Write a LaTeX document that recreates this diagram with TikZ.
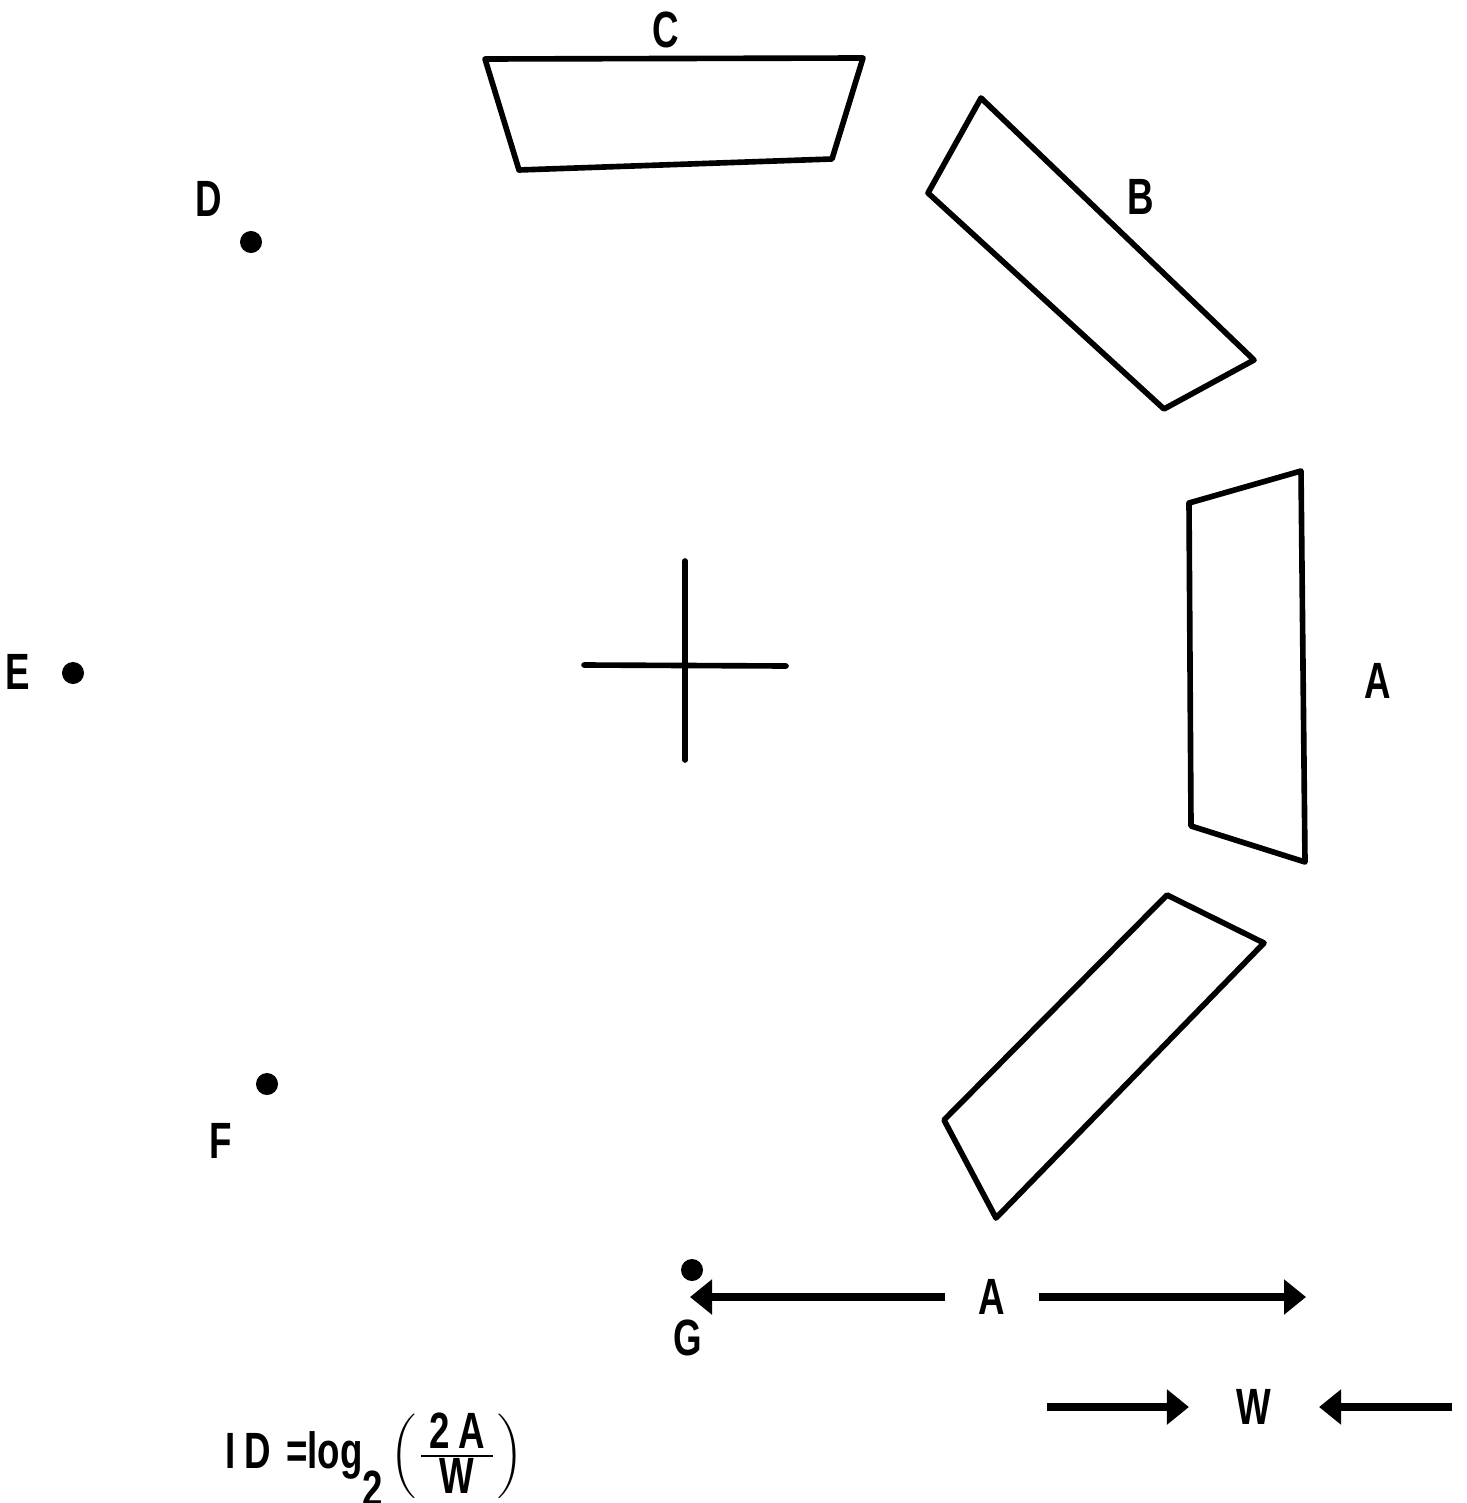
\documentclass[tikz,border=0pt]{standalone}
\usepackage{fontspec}
\newfontfamily\lab[FakeStretch=0.72]{Liberation Sans}
\usetikzlibrary{arrows.meta,positioning}
\newcommand{\labsize}{\lab\bfseries\fontsize{14.5}{16}\selectfont}
\tikzset{
  panel/.style={line width=1.6pt,line join=round,line cap=round},
  target/.style={circle,fill,inner sep=0pt,minimum size=0.22cm},
  lbl/.style={font=\labsize,inner sep=0pt},
  dim/.style={line width=2pt,-{Triangle[length=0.22cm,width=0.34cm]}}
}

\begin{document}
\begin{tikzpicture}[x=0.01cm,y=-0.01cm]
\useasboundingbox (0,0) rectangle (1467,1503);
% target panels
\draw[panel] (485,59) -- (863,58) -- (832,159) -- (519,170) -- cycle;
\draw[panel] (981,98) -- (1254,360) -- (1164,409) -- (928,193) -- cycle;
\draw[panel] (1189,503) -- (1301,471) -- (1305,862) -- (1191,826) -- cycle;
\draw[panel] (1167,895) -- (1264,943) -- (996,1218) -- (944,1120) -- cycle;
% centre cross
\draw[panel] (685,561) -- (685,760);
\draw[panel] (584,665) -- (786,666);
% start points
\node[target] (d) at (251,242) {};
\node[target] (e) at (73,673) {};
\node[target] (f) at (267,1084) {};
\node[target] (g) at (692,1270) {};
\node[lbl] (lc) at (666,30) {C};
\node[lbl] (lb) at (1141,197) {B};
\node[lbl] (la) at (1378,681) {A};
\node[lbl] (ld) at (209,199) {D};
\node[lbl] (le) at (18,672) {E};
\node[lbl] (lf) at (221,1141) {F};
\node[lbl] (lg) at (688,1338) {G};
% amplitude and width
\node[lbl,inner xsep=0.33cm] (adim) at (992,1297) {A};
\coordinate (gtip) at (690,1297);
\coordinate (aend) at (1306,1297);
\draw[dim] (adim.west) -- (gtip);
\draw[dim] (adim.east) -- (aend);
\node[lbl,inner xsep=0.47cm] (wdim) at (1254,1407) {W};
\coordinate (wl) at (1047,1407);
\coordinate (wr) at (1452,1407);
\draw[dim] (wl) -- (wdim.west);
\draw[dim] (wr) -- (wdim.east);
\node[lbl,anchor=west] (id) at (225,1460) {I\,D\hspace{0.3em}=log\raisebox{-0.75em}{2}\hspace{0.15em}$\left(\frac{\mbox{\labsize\,2\,A\,}}{\mbox{\labsize W}}\right)$};
\end{tikzpicture}
\end{document}
